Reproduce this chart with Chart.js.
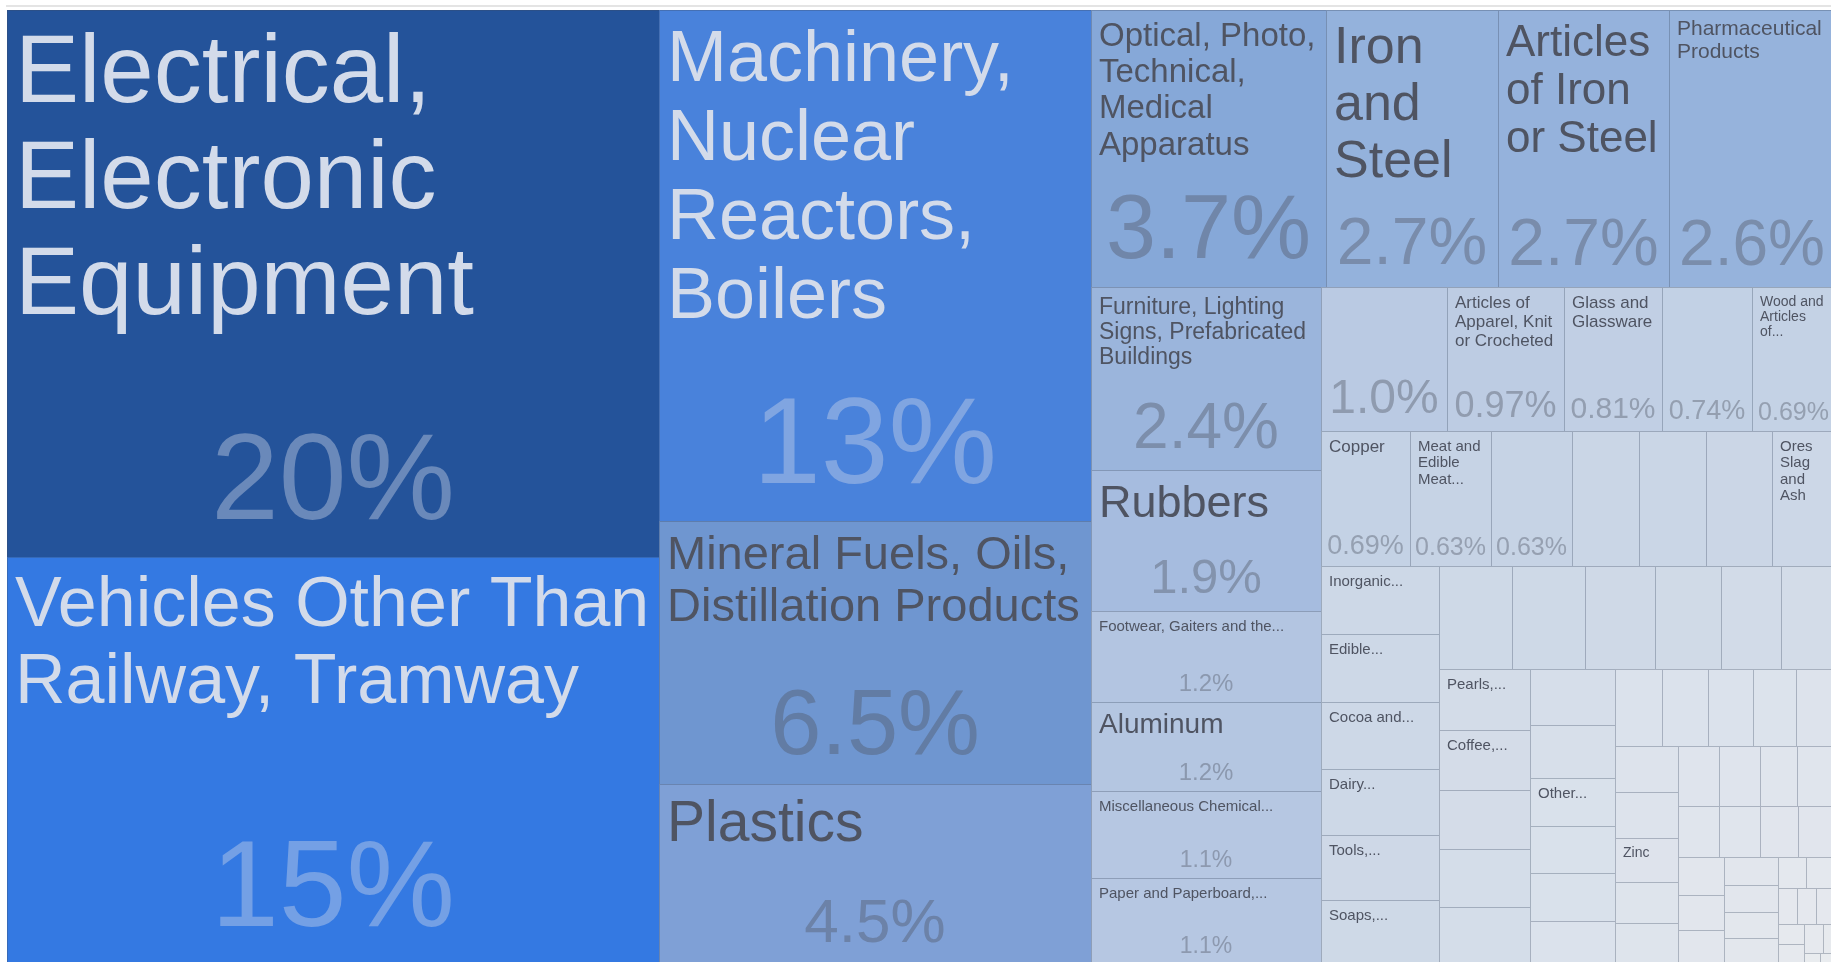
<!DOCTYPE html>
<html>
<head>
<meta charset="utf-8">
<title>Export treemap</title>
<script src="https://cdn.jsdelivr.net/npm/chart.js@4.4.1/dist/chart.umd.min.js"></script>
<style>
  html, body { margin: 0; padding: 0; background: #fff; overflow: hidden; }
  #topline { position: absolute; left: 6px; top: 5px; width: 1840px; height: 2px; background: #e4e4e4; }
  #wrap { position: absolute; left: 0; top: 0; width: 1835px; height: 966px; }
</style>
</head>
<body>
<div id="topline"></div>
<div id="wrap"><canvas id="treeCanvas"></canvas></div>
<script>
// product groups, in the order the treemap lays them out (largest first)
var categories = [
    'Electrical, Electronic Equipment', 'Vehicles Other Than Railway, Tramway',
    'Machinery, Nuclear Reactors, Boilers', 'Mineral Fuels, Oils, Distillation Products', 'Plastics',
    'Optical, Photo, Technical, Medical Apparatus', 'Iron and Steel', 'Articles of Iron or Steel', 'Pharmaceutical Products',
    'Furniture, Lighting Signs, Prefabricated Buildings', 'Rubbers', 'Footwear, Gaiters and the...',
    'Aluminum', 'Miscellaneous Chemical...', 'Paper and Paperboard,...',
    '', 'Articles of Apparel, Knit or Crocheted', 'Glass and Glassware', '', 'Wood and Articles of...',
    'Copper', 'Meat and Edible Meat...', '', '', '', '', 'Ores Slag and Ash',
    'Inorganic...', 'Edible...', 'Cocoa and...', 'Dairy...', 'Tools,...', 'Soaps,...',
    '', '', '', '', '', '',
    'Pearls,...', 'Coffee,...', '', '', '',
    '', '', 'Other...', '', '', '',
    '', '', '', '', '',
    '', '', 'Zinc', '', '',
    '', '', '', '',
    '', '', '', '',
    '', '', '',
    '', '', '', '',
    '', '', '', '', '', '', '', '', '', '', ''
];

// share of exports, %
var shares = [
    20.45, 15.2,
    12.66, 6.53, 4.46,
    3.72, 2.74, 2.70, 2.64,
    2.42, 1.86, 1.20, 1.18, 1.14, 1.14,
    1.04, 0.97, 0.81, 0.74, 0.69,
    0.69, 0.63, 0.63, 0.52, 0.52, 0.51, 0.49,
    0.46, 0.46, 0.45, 0.45, 0.44, 0.43,
    0.43, 0.43, 0.41, 0.39, 0.35, 0.32,
    0.32, 0.31, 0.31, 0.30, 0.30,
    0.27, 0.26, 0.23, 0.23, 0.23, 0.21,
    0.21, 0.20, 0.20, 0.19, 0.17,
    0.17, 0.17, 0.16, 0.15, 0.15,
    0.14, 0.14, 0.13, 0.13,
    0.12, 0.12, 0.11, 0.11,
    0.10, 0.09, 0.09,
    0.085, 0.085, 0.08, 0.08,
    0.05, 0.05, 0.04, 0.04, 0.04, 0.03, 0.03, 0.03, 0.02, 0.01, 0.01
];

var TREE_W = 1828;
var TREE_H = 954;

// tile colour by share (dark blue for the biggest, fading to grey)
var colorStops = [
    [20.4, '#24539a'], [15.2, '#3479e2'], [12.6, '#4a82db'], [6.5, '#6f96d0'], [4.5, '#7fa0d6'],
    [3.7, '#86a8d8'], [2.7, '#95b2dc'], [2.4, '#9bb5dc'], [1.9, '#a5bcdf'], [1.2, '#b3c5e1'],
    [1.0, '#bccce3'], [0.69, '#c4d2e5'], [0.46, '#cdd8e7'], [0.32, '#d3dce8'], [0.21, '#dbe2ec'],
    [0.1, '#e2e6ed'], [0.01, '#e9ecef']
];

function hexRgb(h) {
    return [parseInt(h.substr(1, 2), 16), parseInt(h.substr(3, 2), 16), parseInt(h.substr(5, 2), 16)];
}
function rgbStr(c) {
    return 'rgb(' + Math.round(c[0]) + ',' + Math.round(c[1]) + ',' + Math.round(c[2]) + ')';
}
function mix(a, b, t) {
    return [a[0] + (b[0] - a[0]) * t, a[1] + (b[1] - a[1]) * t, a[2] + (b[2] - a[2]) * t];
}
function tileColor(v) {
    if (v >= colorStops[0][0]) return hexRgb(colorStops[0][1]);
    for (var i = 0; i < colorStops.length - 1; i++) {
        var a = colorStops[i], b = colorStops[i + 1];
        if (v <= a[0] && v >= b[0]) {
            var t = (Math.log(a[0]) - Math.log(v)) / (Math.log(a[0]) - Math.log(b[0]));
            return mix(hexRgb(a[1]), hexRgb(b[1]), t);
        }
    }
    return hexRgb(colorStops[colorStops.length - 1][1]);
}

// squarified layout (same steps as d3.treemapSquarify, golden ratio)
function squarify(values, x0, y0, x1, y1) {
    var ratio = (1 + Math.sqrt(5)) / 2;
    var out = [];
    var n = values.length, i0 = 0, i1 = 0;
    var value = 0;
    for (var q = 0; q < n; q++) value += values[q];
    while (i0 < n) {
        var dx = x1 - x0, dy = y1 - y0;
        var sumValue = values[i1++];
        var minValue = sumValue, maxValue = sumValue;
        var alpha = Math.max(dy / dx, dx / dy) / (value * ratio);
        var beta = sumValue * sumValue * alpha;
        var minRatio = Math.max(maxValue / beta, beta / minValue);
        for (; i1 < n; ++i1) {
            var nv = values[i1];
            sumValue += nv;
            if (nv < minValue) minValue = nv;
            if (nv > maxValue) maxValue = nv;
            beta = sumValue * sumValue * alpha;
            var newRatio = Math.max(maxValue / beta, beta / minValue);
            if (newRatio > minRatio) { sumValue -= nv; break; }
            minRatio = newRatio;
        }
        var k, pos;
        if (dx < dy) {
            var yEnd = i1 < n ? y0 + dy * sumValue / value : y1;
            pos = x0;
            for (k = i0; k < i1; k++) {
                var cw = dx * values[k] / sumValue;
                out.push({ i: k, x0: pos, y0: y0, x1: k === i1 - 1 ? x1 : pos + cw, y1: yEnd });
                pos += cw;
            }
            y0 = yEnd;
        } else {
            var xEnd = i1 < n ? x0 + dx * sumValue / value : x1;
            pos = y0;
            for (k = i0; k < i1; k++) {
                var ch = dy * values[k] / sumValue;
                out.push({ i: k, x0: x0, y0: pos, x1: xEnd, y1: k === i1 - 1 ? y1 : pos + ch });
                pos += ch;
            }
            x0 = xEnd;
        }
        value -= sumValue;
        i0 = i1;
    }
    return out;
}

function fontStr(fs) {
    return fs + 'px "Liberation Sans", Arial, Helvetica, sans-serif';
}

function wrapText(ctx, text, maxW) {
    var words = text.split(' ');
    var lines = [], cur = '';
    for (var i = 0; i < words.length; i++) {
        var test = cur ? cur + ' ' + words[i] : words[i];
        if (ctx.measureText(test).width <= maxW) {
            cur = test;
        } else {
            if (!cur) return null;
            lines.push(cur);
            cur = words[i];
            if (ctx.measureText(cur).width > maxW) return null;
        }
    }
    if (cur) lines.push(cur);
    return lines;
}

function fitName(ctx, text, maxW, availH, cap) {
    var found = {};
    for (var fs = Math.floor(cap); fs >= 10; fs--) {
        ctx.font = fontStr(fs);
        var lines = wrapText(ctx, text, maxW);
        if (!lines) continue;
        if (lines.length * fs * 1.1 > availH) continue;
        if (!found[lines.length]) found[lines.length] = { fs: fs, lines: lines };
    }
    var best = null;
    for (var key in found) {
        if (!best || found[key].fs > best.fs) best = found[key];
    }
    if (!best) return null;
    var pick = best;
    for (var key2 in found) {
        var c = found[key2];
        if (c.lines.length < pick.lines.length && c.fs >= 0.88 * best.fs) pick = c;
    }
    return pick;
}

var treemapPlugin = {
    id: 'treemapCells',
    afterDatasetsDraw: function (chart) {
        var ctx = chart.ctx;
        var xs = chart.scales.x, ys = chart.scales.y;
        var area = chart.chartArea;
        var cells = squarify(shares, 0, 0, TREE_W, TREE_H);
        ctx.save();
        ctx.beginPath();
        ctx.rect(area.left, area.top, area.right - area.left, area.bottom - area.top);
        ctx.clip();

        cells.forEach(function (c) {
            var px0 = Math.round(xs.getPixelForValue(c.x0));
            var px1 = Math.round(xs.getPixelForValue(c.x1));
            var py0 = Math.round(ys.getPixelForValue(c.y0));
            var py1 = Math.round(ys.getPixelForValue(c.y1));
            var bg = tileColor(shares[c.i]);
            ctx.fillStyle = rgbStr(bg);
            ctx.fillRect(px0, py0, px1 - px0, py1 - py0);
            ctx.strokeStyle = 'rgba(60,75,100,0.33)';
            ctx.lineWidth = 1;
            ctx.strokeRect(px0 + 0.5, py0 + 0.5, px1 - px0, py1 - py0);

            var w = px1 - px0, h = py1 - py0;
            if (w < 20 || h < 16) return;
            var lum = (0.299 * bg[0] + 0.587 * bg[1] + 0.114 * bg[2]) / 255;
            var txt = lum < 0.52 ? hexRgb('#d3dbea') : hexRgb('#4f5462');
            var pad = 8;

            // share label, sized to the tile and sat near its bottom
            var pctText = shares[c.i].toPrecision(2) + '%';
            ctx.font = fontStr(100);
            var emW = ctx.measureText(pctText).width / 100;
            var pf = Math.min(122, (h < 100 ? 0.27 : 0.35) * h, 0.88 * w / emW);
            var showPct = pf >= 23 && h >= 78;
            var pctBase = py1 - 0.28 * pf - 4;
            var pctTop = pctBase - 0.72 * pf;

            var name = categories[c.i];
            if (name) {
                var availH = showPct ? Math.min(0.62 * h, pctTop - py0 - 6) : h - 8;
                var cap = Math.min(96, 0.32 * h);
                if (w < 130) cap = Math.min(cap, 0.24 * w, 17);
                if (name.slice(-3) === '...') cap = Math.min(cap, 15);
                var fit = fitName(ctx, name, w - 2 * pad, availH, cap);
                if (fit) {
                    ctx.font = fontStr(fit.fs);
                    ctx.fillStyle = rgbStr(txt);
                    ctx.textAlign = 'left';
                    ctx.textBaseline = 'alphabetic';
                    for (var l = 0; l < fit.lines.length; l++) {
                        ctx.fillText(fit.lines[l], px0 + pad, py0 + 6 + 0.9 * fit.fs + l * 1.1 * fit.fs);
                    }
                }
            }
            if (showPct) {
                ctx.font = fontStr(Math.floor(pf));
                ctx.fillStyle = rgbStr(mix(bg, txt, 0.4));
                ctx.textAlign = 'center';
                ctx.textBaseline = 'alphabetic';
                ctx.fillText(pctText, (px0 + px1) / 2, pctBase);
            }
        });
        ctx.restore();
    }
};

var graphTarget = document.getElementById('treeCanvas');
var treeChart = new Chart(graphTarget, {
    type: 'scatter',
    data: { datasets: [{ label: 'share', data: [] }] },
    options: {
        responsive: true,
        maintainAspectRatio: false,
        animation: false,
        layout: { padding: { left: 7, top: 10, right: 0, bottom: 2 } },
        scales: {
            x: { type: 'linear', min: 0, max: TREE_W, display: false },
            y: { type: 'linear', min: 0, max: TREE_H, reverse: true, display: false }
        },
        plugins: {
            legend: { display: false },
            tooltip: { enabled: false }
        }
    },
    plugins: [treemapPlugin]
});
</script>
</body>
</html>
